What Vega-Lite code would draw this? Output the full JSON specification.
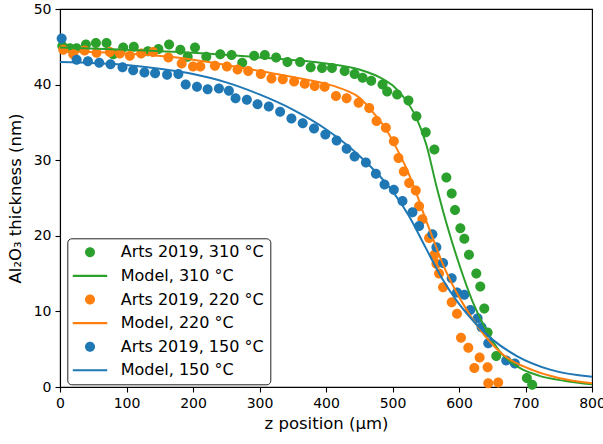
{
  "$schema": "https://vega.github.io/schema/vega-lite/v6.json",
  "width": 532,
  "height": 378,
  "autosize": "none",
  "padding": {"left": 60, "top": 9, "right": 11, "bottom": 57},
  "background": "white",
  "config": {
    "font": "DejaVu Sans",
    "view": {"stroke": "black", "strokeWidth": 1.1},
    "axis": {
      "grid": false,
      "domainColor": "black",
      "domainWidth": 1.1,
      "tickColor": "black",
      "tickWidth": 1.1,
      "tickSize": 5,
      "labelFont": "DejaVu Sans",
      "labelFontSize": 14,
      "labelColor": "black",
      "labelPadding": 4,
      "labelFlush": false,
      "labelOverlap": false,
      "titleFont": "DejaVu Sans",
      "titleFontSize": 16.5,
      "titleFontWeight": "normal",
      "titleColor": "black"
    }
  },
  "datasets": {
    "pts": [
      {"x": 3.5, "y": 45.1, "series": "Arts 2019, 310 °C"},
      {"x": 15, "y": 44.8, "series": "Arts 2019, 310 °C"},
      {"x": 25, "y": 44.8, "series": "Arts 2019, 310 °C"},
      {"x": 39, "y": 45.3, "series": "Arts 2019, 310 °C"},
      {"x": 54, "y": 45.5, "series": "Arts 2019, 310 °C"},
      {"x": 70, "y": 45.5, "series": "Arts 2019, 310 °C"},
      {"x": 80, "y": 44.0, "series": "Arts 2019, 310 °C"},
      {"x": 95, "y": 44.9, "series": "Arts 2019, 310 °C"},
      {"x": 111, "y": 45.0, "series": "Arts 2019, 310 °C"},
      {"x": 132, "y": 44.4, "series": "Arts 2019, 310 °C"},
      {"x": 148, "y": 44.7, "series": "Arts 2019, 310 °C"},
      {"x": 164, "y": 45.3, "series": "Arts 2019, 310 °C"},
      {"x": 181, "y": 44.6, "series": "Arts 2019, 310 °C"},
      {"x": 192, "y": 43.7, "series": "Arts 2019, 310 °C"},
      {"x": 203, "y": 44.9, "series": "Arts 2019, 310 °C"},
      {"x": 220, "y": 43.7, "series": "Arts 2019, 310 °C"},
      {"x": 241, "y": 44.0, "series": "Arts 2019, 310 °C"},
      {"x": 258, "y": 43.9, "series": "Arts 2019, 310 °C"},
      {"x": 274, "y": 42.9, "series": "Arts 2019, 310 °C"},
      {"x": 292, "y": 43.8, "series": "Arts 2019, 310 °C"},
      {"x": 308, "y": 43.9, "series": "Arts 2019, 310 °C"},
      {"x": 325, "y": 43.6, "series": "Arts 2019, 310 °C"},
      {"x": 342, "y": 43.0, "series": "Arts 2019, 310 °C"},
      {"x": 361, "y": 43.0, "series": "Arts 2019, 310 °C"},
      {"x": 377, "y": 42.3, "series": "Arts 2019, 310 °C"},
      {"x": 394, "y": 42.2, "series": "Arts 2019, 310 °C"},
      {"x": 409, "y": 42.2, "series": "Arts 2019, 310 °C"},
      {"x": 428, "y": 41.8, "series": "Arts 2019, 310 °C"},
      {"x": 443, "y": 41.4, "series": "Arts 2019, 310 °C"},
      {"x": 455, "y": 40.9, "series": "Arts 2019, 310 °C"},
      {"x": 468, "y": 40.5, "series": "Arts 2019, 310 °C"},
      {"x": 485, "y": 40.0, "series": "Arts 2019, 310 °C"},
      {"x": 492, "y": 39.1, "series": "Arts 2019, 310 °C"},
      {"x": 507, "y": 38.7, "series": "Arts 2019, 310 °C"},
      {"x": 524, "y": 37.9, "series": "Arts 2019, 310 °C"},
      {"x": 536, "y": 35.8, "series": "Arts 2019, 310 °C"},
      {"x": 550, "y": 33.7, "series": "Arts 2019, 310 °C"},
      {"x": 563, "y": 31.4, "series": "Arts 2019, 310 °C"},
      {"x": 581, "y": 27.7, "series": "Arts 2019, 310 °C"},
      {"x": 589, "y": 25.6, "series": "Arts 2019, 310 °C"},
      {"x": 594, "y": 23.4, "series": "Arts 2019, 310 °C"},
      {"x": 602, "y": 21.0, "series": "Arts 2019, 310 °C"},
      {"x": 608, "y": 19.6, "series": "Arts 2019, 310 °C"},
      {"x": 615, "y": 17.5, "series": "Arts 2019, 310 °C"},
      {"x": 626, "y": 15.0, "series": "Arts 2019, 310 °C"},
      {"x": 632, "y": 13.3, "series": "Arts 2019, 310 °C"},
      {"x": 638, "y": 10.4, "series": "Arts 2019, 310 °C"},
      {"x": 643, "y": 7.2, "series": "Arts 2019, 310 °C"},
      {"x": 656, "y": 4.1, "series": "Arts 2019, 310 °C"},
      {"x": 702, "y": 1.2, "series": "Arts 2019, 310 °C"},
      {"x": 710, "y": 0.3, "series": "Arts 2019, 310 °C"},

      {"x": 5, "y": 44.6, "series": "Arts 2019, 220 °C"},
      {"x": 20, "y": 44.0, "series": "Arts 2019, 220 °C"},
      {"x": 37, "y": 44.5, "series": "Arts 2019, 220 °C"},
      {"x": 55, "y": 44.2, "series": "Arts 2019, 220 °C"},
      {"x": 75, "y": 44.3, "series": "Arts 2019, 220 °C"},
      {"x": 90, "y": 44.1, "series": "Arts 2019, 220 °C"},
      {"x": 105, "y": 43.8, "series": "Arts 2019, 220 °C"},
      {"x": 122, "y": 44.1, "series": "Arts 2019, 220 °C"},
      {"x": 140, "y": 44.3, "series": "Arts 2019, 220 °C"},
      {"x": 163, "y": 43.6, "series": "Arts 2019, 220 °C"},
      {"x": 183, "y": 42.8, "series": "Arts 2019, 220 °C"},
      {"x": 200, "y": 42.4, "series": "Arts 2019, 220 °C"},
      {"x": 211, "y": 42.4, "series": "Arts 2019, 220 °C"},
      {"x": 233, "y": 42.5, "series": "Arts 2019, 220 °C"},
      {"x": 251, "y": 42.4, "series": "Arts 2019, 220 °C"},
      {"x": 267, "y": 42.0, "series": "Arts 2019, 220 °C"},
      {"x": 283, "y": 41.8, "series": "Arts 2019, 220 °C"},
      {"x": 302, "y": 41.4, "series": "Arts 2019, 220 °C"},
      {"x": 318, "y": 40.8, "series": "Arts 2019, 220 °C"},
      {"x": 335, "y": 40.7, "series": "Arts 2019, 220 °C"},
      {"x": 352, "y": 40.4, "series": "Arts 2019, 220 °C"},
      {"x": 368, "y": 40.1, "series": "Arts 2019, 220 °C"},
      {"x": 383, "y": 39.8, "series": "Arts 2019, 220 °C"},
      {"x": 398, "y": 39.7, "series": "Arts 2019, 220 °C"},
      {"x": 415, "y": 38.5, "series": "Arts 2019, 220 °C"},
      {"x": 431, "y": 38.2, "series": "Arts 2019, 220 °C"},
      {"x": 449, "y": 37.6, "series": "Arts 2019, 220 °C"},
      {"x": 465, "y": 36.9, "series": "Arts 2019, 220 °C"},
      {"x": 476, "y": 35.2, "series": "Arts 2019, 220 °C"},
      {"x": 490, "y": 34.3, "series": "Arts 2019, 220 °C"},
      {"x": 502, "y": 32.5, "series": "Arts 2019, 220 °C"},
      {"x": 509, "y": 30.3, "series": "Arts 2019, 220 °C"},
      {"x": 517, "y": 28.5, "series": "Arts 2019, 220 °C"},
      {"x": 525, "y": 27.0, "series": "Arts 2019, 220 °C"},
      {"x": 535, "y": 26.0, "series": "Arts 2019, 220 °C"},
      {"x": 540, "y": 23.9, "series": "Arts 2019, 220 °C"},
      {"x": 545, "y": 22.2, "series": "Arts 2019, 220 °C"},
      {"x": 555, "y": 19.7, "series": "Arts 2019, 220 °C"},
      {"x": 563, "y": 17.5, "series": "Arts 2019, 220 °C"},
      {"x": 566, "y": 16.3, "series": "Arts 2019, 220 °C"},
      {"x": 570, "y": 15.0, "series": "Arts 2019, 220 °C"},
      {"x": 576, "y": 13.2, "series": "Arts 2019, 220 °C"},
      {"x": 589, "y": 11.2, "series": "Arts 2019, 220 °C"},
      {"x": 597, "y": 9.7, "series": "Arts 2019, 220 °C"},
      {"x": 603, "y": 6.5, "series": "Arts 2019, 220 °C"},
      {"x": 614, "y": 5.2, "series": "Arts 2019, 220 °C"},
      {"x": 623, "y": 2.5, "series": "Arts 2019, 220 °C"},
      {"x": 631, "y": 3.9, "series": "Arts 2019, 220 °C"},
      {"x": 643, "y": 2.6, "series": "Arts 2019, 220 °C"},
      {"x": 644, "y": 0.5, "series": "Arts 2019, 220 °C"},
      {"x": 659, "y": 0.6, "series": "Arts 2019, 220 °C"},

      {"x": 2.5, "y": 46.1, "series": "Arts 2019, 150 °C"},
      {"x": 25, "y": 43.3, "series": "Arts 2019, 150 °C"},
      {"x": 42, "y": 43.1, "series": "Arts 2019, 150 °C"},
      {"x": 59, "y": 42.9, "series": "Arts 2019, 150 °C"},
      {"x": 76, "y": 42.7, "series": "Arts 2019, 150 °C"},
      {"x": 94, "y": 42.3, "series": "Arts 2019, 150 °C"},
      {"x": 110, "y": 41.9, "series": "Arts 2019, 150 °C"},
      {"x": 127, "y": 41.6, "series": "Arts 2019, 150 °C"},
      {"x": 143, "y": 41.5, "series": "Arts 2019, 150 °C"},
      {"x": 161, "y": 41.3, "series": "Arts 2019, 150 °C"},
      {"x": 178, "y": 41.4, "series": "Arts 2019, 150 °C"},
      {"x": 189, "y": 40.0, "series": "Arts 2019, 150 °C"},
      {"x": 206, "y": 39.7, "series": "Arts 2019, 150 °C"},
      {"x": 222, "y": 39.4, "series": "Arts 2019, 150 °C"},
      {"x": 239, "y": 39.5, "series": "Arts 2019, 150 °C"},
      {"x": 254, "y": 39.2, "series": "Arts 2019, 150 °C"},
      {"x": 264, "y": 38.2, "series": "Arts 2019, 150 °C"},
      {"x": 281, "y": 38.0, "series": "Arts 2019, 150 °C"},
      {"x": 297, "y": 37.4, "series": "Arts 2019, 150 °C"},
      {"x": 314, "y": 37.1, "series": "Arts 2019, 150 °C"},
      {"x": 331, "y": 36.4, "series": "Arts 2019, 150 °C"},
      {"x": 348, "y": 35.5, "series": "Arts 2019, 150 °C"},
      {"x": 365, "y": 34.9, "series": "Arts 2019, 150 °C"},
      {"x": 382, "y": 34.2, "series": "Arts 2019, 150 °C"},
      {"x": 399, "y": 33.4, "series": "Arts 2019, 150 °C"},
      {"x": 416, "y": 32.6, "series": "Arts 2019, 150 °C"},
      {"x": 431, "y": 31.5, "series": "Arts 2019, 150 °C"},
      {"x": 443, "y": 30.5, "series": "Arts 2019, 150 °C"},
      {"x": 460, "y": 29.7, "series": "Arts 2019, 150 °C"},
      {"x": 475, "y": 28.2, "series": "Arts 2019, 150 °C"},
      {"x": 488, "y": 26.8, "series": "Arts 2019, 150 °C"},
      {"x": 502, "y": 26.1, "series": "Arts 2019, 150 °C"},
      {"x": 515, "y": 24.6, "series": "Arts 2019, 150 °C"},
      {"x": 530, "y": 23.1, "series": "Arts 2019, 150 °C"},
      {"x": 540, "y": 21.3, "series": "Arts 2019, 150 °C"},
      {"x": 560, "y": 20.2, "series": "Arts 2019, 150 °C"},
      {"x": 566, "y": 18.5, "series": "Arts 2019, 150 °C"},
      {"x": 576, "y": 16.4, "series": "Arts 2019, 150 °C"},
      {"x": 589, "y": 14.4, "series": "Arts 2019, 150 °C"},
      {"x": 597, "y": 12.5, "series": "Arts 2019, 150 °C"},
      {"x": 608, "y": 12.2, "series": "Arts 2019, 150 °C"},
      {"x": 617, "y": 10.2, "series": "Arts 2019, 150 °C"},
      {"x": 628, "y": 9.1, "series": "Arts 2019, 150 °C"},
      {"x": 634, "y": 7.9, "series": "Arts 2019, 150 °C"},
      {"x": 644, "y": 5.8, "series": "Arts 2019, 150 °C"},
      {"x": 671, "y": 3.5, "series": "Arts 2019, 150 °C"},
      {"x": 684, "y": 3.1, "series": "Arts 2019, 150 °C"}
    ],
    "model": [
      {"x": 0, "y": 44.9, "series": "Model, 310 °C"},
      {"x": 100, "y": 44.6, "series": "Model, 310 °C"},
      {"x": 200, "y": 44.2, "series": "Model, 310 °C"},
      {"x": 300, "y": 43.6, "series": "Model, 310 °C"},
      {"x": 400, "y": 42.8, "series": "Model, 310 °C"},
      {"x": 450, "y": 42.0, "series": "Model, 310 °C"},
      {"x": 480, "y": 41.0, "series": "Model, 310 °C"},
      {"x": 500, "y": 39.9, "series": "Model, 310 °C"},
      {"x": 516, "y": 38.4, "series": "Model, 310 °C"},
      {"x": 536, "y": 35.6, "series": "Model, 310 °C"},
      {"x": 551, "y": 32.0, "series": "Model, 310 °C"},
      {"x": 566, "y": 26.6, "series": "Model, 310 °C"},
      {"x": 584, "y": 20.8, "series": "Model, 310 °C"},
      {"x": 600, "y": 16.3, "series": "Model, 310 °C"},
      {"x": 620, "y": 11.4, "series": "Model, 310 °C"},
      {"x": 642, "y": 7.4, "series": "Model, 310 °C"},
      {"x": 662, "y": 4.6, "series": "Model, 310 °C"},
      {"x": 690, "y": 2.6, "series": "Model, 310 °C"},
      {"x": 720, "y": 1.5, "series": "Model, 310 °C"},
      {"x": 760, "y": 0.8, "series": "Model, 310 °C"},
      {"x": 800, "y": 0.35, "series": "Model, 310 °C"},

      {"x": 0, "y": 44.4, "series": "Model, 220 °C"},
      {"x": 100, "y": 44.1, "series": "Model, 220 °C"},
      {"x": 200, "y": 43.3, "series": "Model, 220 °C"},
      {"x": 250, "y": 42.6, "series": "Model, 220 °C"},
      {"x": 300, "y": 41.8, "series": "Model, 220 °C"},
      {"x": 350, "y": 41.0, "series": "Model, 220 °C"},
      {"x": 400, "y": 40.1, "series": "Model, 220 °C"},
      {"x": 431, "y": 39.2, "series": "Model, 220 °C"},
      {"x": 450, "y": 38.3, "series": "Model, 220 °C"},
      {"x": 471, "y": 36.3, "series": "Model, 220 °C"},
      {"x": 491, "y": 34.0, "series": "Model, 220 °C"},
      {"x": 506, "y": 31.6, "series": "Model, 220 °C"},
      {"x": 521, "y": 28.9, "series": "Model, 220 °C"},
      {"x": 536, "y": 25.6, "series": "Model, 220 °C"},
      {"x": 551, "y": 21.9, "series": "Model, 220 °C"},
      {"x": 561, "y": 19.6, "series": "Model, 220 °C"},
      {"x": 576, "y": 16.2, "series": "Model, 220 °C"},
      {"x": 602, "y": 11.6, "series": "Model, 220 °C"},
      {"x": 637, "y": 7.0, "series": "Model, 220 °C"},
      {"x": 662, "y": 4.6, "series": "Model, 220 °C"},
      {"x": 712, "y": 2.2, "series": "Model, 220 °C"},
      {"x": 750, "y": 1.2, "series": "Model, 220 °C"},
      {"x": 800, "y": 0.5, "series": "Model, 220 °C"},

      {"x": 0, "y": 43.0, "series": "Model, 150 °C"},
      {"x": 100, "y": 42.6, "series": "Model, 150 °C"},
      {"x": 150, "y": 42.1, "series": "Model, 150 °C"},
      {"x": 200, "y": 41.4, "series": "Model, 150 °C"},
      {"x": 250, "y": 40.3, "series": "Model, 150 °C"},
      {"x": 300, "y": 38.7, "series": "Model, 150 °C"},
      {"x": 350, "y": 36.7, "series": "Model, 150 °C"},
      {"x": 400, "y": 34.1, "series": "Model, 150 °C"},
      {"x": 450, "y": 30.6, "series": "Model, 150 °C"},
      {"x": 500, "y": 25.9, "series": "Model, 150 °C"},
      {"x": 525, "y": 22.6, "series": "Model, 150 °C"},
      {"x": 550, "y": 18.4, "series": "Model, 150 °C"},
      {"x": 575, "y": 14.3, "series": "Model, 150 °C"},
      {"x": 600, "y": 11.0, "series": "Model, 150 °C"},
      {"x": 625, "y": 8.4, "series": "Model, 150 °C"},
      {"x": 650, "y": 6.3, "series": "Model, 150 °C"},
      {"x": 687, "y": 4.1, "series": "Model, 150 °C"},
      {"x": 737, "y": 2.3, "series": "Model, 150 °C"},
      {"x": 800, "y": 1.35, "series": "Model, 150 °C"}
    ]
  },
  "encoding": {
    "x": {"field": "x", "type": "quantitative",
      "scale": {"domain": [0, 800], "nice": false, "zero": false},
      "axis": {"values": [0, 100, 200, 300, 400, 500, 600, 700, 800], "title": "z position (μm)", "titlePadding": 5}},
    "y": {"field": "y", "type": "quantitative",
      "scale": {"domain": [0, 50], "nice": false, "zero": false},
      "axis": {"values": [0, 10, 20, 30, 40, 50], "title": "Al₂O₃ thickness (nm)", "titlePadding": 10}},
    "color": {"field": "series", "type": "nominal",
      "scale": {
        "domain": ["Arts 2019, 310 °C", "Model, 310 °C", "Arts 2019, 220 °C", "Model, 220 °C", "Arts 2019, 150 °C", "Model, 150 °C"],
        "range": ["#2ca02c", "#2ca02c", "#ff7f0e", "#ff7f0e", "#1f77b4", "#1f77b4"]
      },
      "legend": {
        "title": null,
        "orient": "none",
        "legendX": 7.3,
        "legendY": 229.3,
        "direction": "vertical",
        "labelFont": "DejaVu Sans",
        "labelFontSize": 16,
        "labelColor": "black",
        "labelOffset": 22.7,
        "symbolOffset": 8.7,
        "symbolSize": 256,
        "symbolStrokeWidth": 0,
        "rowPadding": 7.6,
        "padding": 6,
        "fillColor": "white",
        "strokeColor": "#222222",
        "cornerRadius": 4
      }
    }
  },
  "layer": [
    {
      "data": {"name": "pts"},
      "mark": {"type": "point", "filled": true, "opacity": 1, "size": 256, "strokeWidth": 0},
      "encoding": {
        "shape": {"field": "series", "type": "nominal",
          "scale": {
            "domain": ["Arts 2019, 310 °C", "Model, 310 °C", "Arts 2019, 220 °C", "Model, 220 °C", "Arts 2019, 150 °C", "Model, 150 °C"],
            "range": [
              "M-0.625,0A0.625,0.625,0,1,0,0.625,0A0.625,0.625,0,1,0,-0.625,0Z",
              "M-2.15,-0.13L2.15,-0.13L2.15,0.13L-2.15,0.13Z",
              "M-0.625,0A0.625,0.625,0,1,0,0.625,0A0.625,0.625,0,1,0,-0.625,0Z",
              "M-2.15,-0.13L2.15,-0.13L2.15,0.13L-2.15,0.13Z",
              "M-0.625,0A0.625,0.625,0,1,0,0.625,0A0.625,0.625,0,1,0,-0.625,0Z",
              "M-2.15,-0.13L2.15,-0.13L2.15,0.13L-2.15,0.13Z"
            ]
          }
        }
      }
    },
    {
      "data": {"name": "model"},
      "mark": {"type": "line", "strokeWidth": 2, "interpolate": "monotone"}
    }
  ]
}
